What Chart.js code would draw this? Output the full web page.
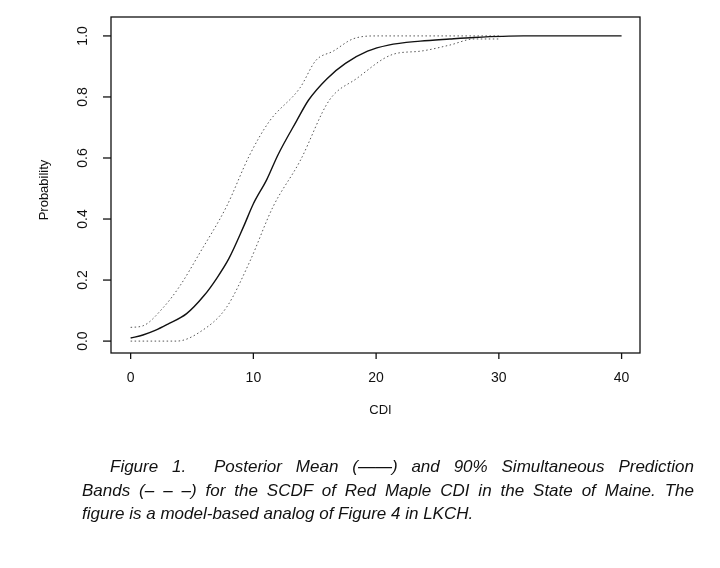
<!DOCTYPE html>
<html>
<head>
<meta charset="utf-8">
<script src="https://cdn.jsdelivr.net/npm/chart.js@4/dist/chart.umd.min.js"></script>
<style>
  body { margin: 0; background: #fff; }
  #wrap { position: relative; width: 720px; height: 568px; }
  canvas { position: absolute; left: 0; top: 0; }
  .cap { position: absolute; left: 82px; top: 455px; width: 612px; font: italic 17px "Liberation Sans", Arial, sans-serif; line-height: 23.5px; color: #111; }
  .cap div { text-align: justify; text-align-last: justify; white-space: nowrap; }
  .cap div.last { text-align-last: left; }
</style>
</head>
<body>
<div id="wrap">
  <canvas id="chart" width="720" height="568"></canvas>
  <div class="cap">
    <div style="padding-left:28px">Figure 1.&nbsp; Posterior Mean (——) and 90% Simultaneous Prediction</div>
    <div>Bands (– – –) for the SCDF of Red Maple CDI in the State of Maine. The</div>
    <div class="last">figure is a model-based analog of Figure 4 in LKCH.</div>
  </div>
</div>
<script>
const meanX = [0, 1, 2, 3, 4.56, 6, 7.0, 8, 9.2, 10, 11.1, 12, 13.5, 14.5, 16.0, 17.5, 19.3, 21, 23.6, 26, 28, 32, 40];
const meanY = [0.01, 0.02, 0.035, 0.055, 0.09, 0.15, 0.205, 0.27, 0.375, 0.45, 0.53, 0.61, 0.72, 0.79, 0.86, 0.91, 0.95, 0.97, 0.983, 0.99, 0.995, 1.0, 1.0];
const upperX = [0, 1, 2.66, 4, 5.65, 7.8, 9.7, 11.3, 13.8, 15.1, 16.5, 18.1, 20, 30];
const upperY = [0.045, 0.05, 0.11, 0.18, 0.29, 0.44, 0.61, 0.72, 0.83, 0.92, 0.95, 0.99, 1.0, 1.0];
const lowerX = [0, 3.75, 5.65, 7.8, 9.7, 11.6, 13.8, 16.2, 18.4, 21.4, 23.6, 26, 28, 30];
const lowerY = [0, 0, 0.03, 0.11, 0.26, 0.44, 0.59, 0.79, 0.86, 0.94, 0.95, 0.97, 0.99, 0.99];
const xTicks = [0, 10, 20, 30, 40];
const yTicks = [0, 0.2, 0.4, 0.6, 0.8, 1.0];

const pts = (xs, ys) => xs.map((x, i) => ({ x: x, y: ys[i] }));

const framePlugin = {
  id: 'frame',
  afterDraw(chart) {
    const { ctx, chartArea: a, scales: { x, y } } = chart;
    ctx.save();
    ctx.strokeStyle = '#111';
    ctx.lineWidth = 1.3;
    ctx.strokeRect(a.left, a.top, a.right - a.left, a.bottom - a.top);
    ctx.fillStyle = '#111';
    ctx.font = '14px "Liberation Sans", Arial, sans-serif';
    ctx.textAlign = 'center';
    ctx.textBaseline = 'middle';
    xTicks.forEach(v => {
      const px = x.getPixelForValue(v);
      ctx.beginPath(); ctx.moveTo(px, a.bottom); ctx.lineTo(px, a.bottom + 6); ctx.stroke();
      ctx.fillText(String(v), px, a.bottom + 25);
    });
    yTicks.forEach(v => {
      const py = y.getPixelForValue(v);
      ctx.beginPath(); ctx.moveTo(a.left, py); ctx.lineTo(a.left - 8, py); ctx.stroke();
      ctx.save(); ctx.translate(a.left - 28, py); ctx.rotate(-Math.PI / 2);
      ctx.fillText(v.toFixed(1), 0, 0); ctx.restore();
    });
    ctx.font = '13px "Liberation Sans", Arial, sans-serif';
    ctx.fillText('CDI', (a.left + a.right) / 2 + 5, 410);
    ctx.save(); ctx.translate(44, 190); ctx.rotate(-Math.PI / 2);
    ctx.fillText('Probability', 0, 0); ctx.restore();
    ctx.restore();
  }
};

new Chart(document.getElementById('chart'), {
  type: 'line',
  data: {
    datasets: [
      { data: pts(meanX, meanY), borderColor: '#111', borderWidth: 1.4, pointRadius: 0, cubicInterpolationMode: 'monotone' },
      { data: pts(upperX, upperY), borderColor: '#555', borderWidth: 1, borderDash: [1.5, 2.5], pointRadius: 0, cubicInterpolationMode: 'monotone' },
      { data: pts(lowerX, lowerY), borderColor: '#555', borderWidth: 1, borderDash: [1.5, 2.5], pointRadius: 0, cubicInterpolationMode: 'monotone' }
    ]
  },
  options: {
    responsive: false,
    animation: false,
    layout: { padding: { left: 111, right: 80, top: 17, bottom: 215 } },
    plugins: { legend: { display: false }, tooltip: { enabled: false } },
    scales: {
      x: { type: 'linear', min: -1.6, max: 41.5, display: false },
      y: { type: 'linear', min: -0.039, max: 1.062, display: false }
    }
  },
  plugins: [framePlugin]
});
</script>
</body>
</html>
